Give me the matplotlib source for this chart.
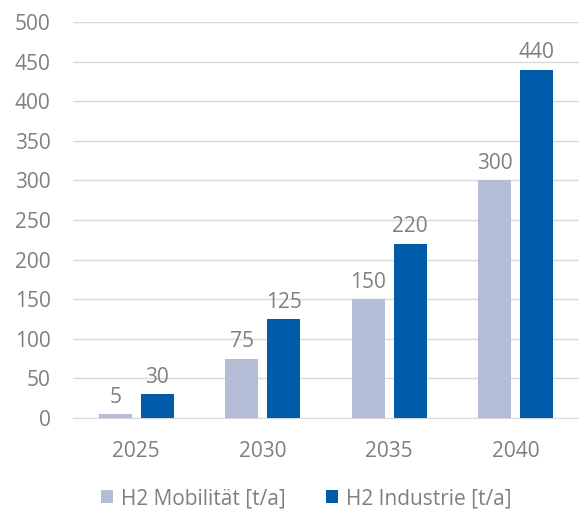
import numpy as np
import matplotlib.pyplot as plt

# Daten
jahre = ["2025", "2030", "2035", "2040"]
mobilitaet = [5, 75, 150, 300]
industrie = [30, 125, 220, 440]

plt.rcParams['font.family'] = ['Open Sans', 'DejaVu Sans']
grau = '#7F7F7F'
fs = 15

fig = plt.figure(figsize=(5.79, 5.14), dpi=100)
ax = fig.add_axes([0.126, 0.187, 0.874, 0.770])

x = np.arange(len(jahre))
b = 0.26
abst = 0.07
b1 = ax.bar(x - (b + abst) / 2, mobilitaet, b, color='#B4BDD6', label='H2 Mobilität [t/a]', zorder=3)
b2 = ax.bar(x + (b + abst) / 2, industrie, b, color='#005CA9', label='H2 Industrie [t/a]', zorder=3)

for bars in (b1, b2):
    for r in bars:
        ax.text(r.get_x() + r.get_width() / 2, r.get_height() + 8, f"{int(r.get_height())}",
                ha='center', va='bottom', fontsize=fs, color=grau)

ax.set_xlim(-0.5, 3.5)
ax.set_ylim(0, 500)
ax.set_yticks(range(0, 501, 50))
ax.set_xticks(x)
ax.set_xticklabels(jahre)
ax.tick_params(axis='both', length=0, labelsize=fs, labelcolor=grau)
ax.tick_params(axis='y', pad=16)
ax.tick_params(axis='x', pad=17)
ax.grid(axis='y', color='#D9D9D9', linewidth=1, zorder=0)
for s in ['top', 'right', 'left']:
    ax.spines[s].set_visible(False)
ax.spines['bottom'].set_color('#D9D9D9')

fig.legend(handles=[b1, b2], loc='center', bbox_to_anchor=(0.529, 0.03), ncol=2, frameon=False,
           fontsize=fs, labelcolor=grau, handlelength=0.6, handleheight=0.6, columnspacing=1.9,
           handletextpad=0.4)

plt.savefig('out.png', dpi=100)
